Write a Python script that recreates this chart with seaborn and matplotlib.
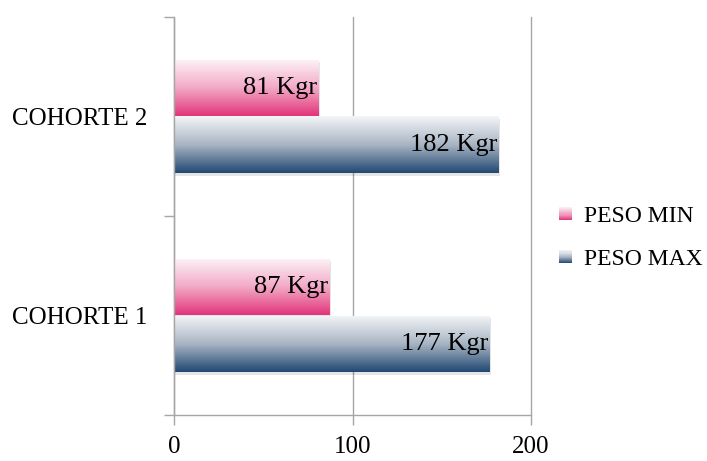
import numpy as np
import pandas as pd
import matplotlib
matplotlib.use("Agg")
import matplotlib.pyplot as plt
import seaborn as sns
from matplotlib.colors import LinearSegmentedColormap
from matplotlib.patches import Rectangle
from matplotlib.legend_handler import HandlerBase

# Data
cohorts = ["COHORTE 2", "COHORTE 1"]
series = ["PESO MIN", "PESO MAX"]
peso_min = [81, 87]
peso_max = [182, 177]
x_ticks = [0, 100, 200]

df = pd.DataFrame({
    "cohorte": cohorts * 2,
    "serie": [series[0]] * len(cohorts) + [series[1]] * len(cohorts),
    "peso": peso_min + peso_max,
})

# Vertical gradients (top -> bottom) for each series
grad_colors = {
    "PESO MIN": ["#fdf3f7", "#f2aac6", "#e2347a"],
    "PESO MAX": ["#f4f6f8", "#a9b5c4", "#214872"],
}
cmaps = {k: LinearSegmentedColormap.from_list(k, v) for k, v in grad_colors.items()}

sns.set_style("white")
plt.rcParams["font.family"] = ["Liberation Serif", "DejaVu Serif"]
plt.rcParams["text.color"] = "#000000"
plt.rcParams["xtick.color"] = "#000000"
plt.rcParams["ytick.color"] = "#000000"

fig = plt.figure(figsize=(7.07, 4.61), dpi=100)
ax = fig.add_axes([174 / 707, 1 - 415 / 461, (531 - 174) / 707, (415 - 17) / 461])

sns.barplot(data=df, y="cohorte", x="peso", hue="serie", order=cohorts,
            hue_order=series, orient="h", width=0.57, ax=ax, legend=False,
            palette=[grad_colors[s][-1] for s in series], saturation=1)

grad = np.linspace(0, 1, 256).reshape(-1, 1)
for container, name in zip(ax.containers, series):
    for bar in container:
        x0, y0 = bar.get_x(), bar.get_y()
        w, h = bar.get_width(), bar.get_height()
        # soft drop shadow
        ax.add_patch(Rectangle((x0 + 0.8, y0 + 0.012), w, h, facecolor="#000000",
                               alpha=0.10, edgecolor="none", zorder=1.5))
        im = ax.imshow(grad, cmap=cmaps[name], aspect="auto", origin="upper",
                       extent=(x0, x0 + w, y0 + h, y0), zorder=2,
                       interpolation="bilinear")
        im.set_clip_path(bar)
        bar.set_facecolor("none")
        bar.set_edgecolor("none")
        bar.set_zorder(2.1)
    labels = ax.bar_label(container, fmt="{:.0f} Kgr", padding=-1, fontsize=19,
                          color="#000000")
    for t in labels:
        t.set_ha("right")
        t.set_zorder(4)

ax.set_xlim(0, 200)
ax.set_ylim(1.5, -0.5)
ax.set_xticks(x_ticks)
ax.set_xticklabels([str(v) for v in x_ticks], fontsize=18)
ax.set_yticks([0, 1])
ax.set_yticklabels(cohorts, fontsize=18)
ax.set_yticks([-0.5, 0.5, 1.5], minor=True)
ax.set_xlabel("")
ax.set_ylabel("")

ax.grid(axis="x", color="#a6a6a6", linewidth=1.0)
ax.grid(axis="y", visible=False)
ax.set_axisbelow(True)
for gl in ax.get_xgridlines():
    gl.set_clip_on(False)

for s in ["top", "right"]:
    ax.spines[s].set_visible(False)
for s in ["left", "bottom"]:
    ax.spines[s].set_color("#a6a6a6")
    ax.spines[s].set_linewidth(1.0)

ax.tick_params(axis="y", which="major", length=0, pad=19)
ax.tick_params(axis="y", which="minor", length=7, width=1.0, color="#a6a6a6",
               direction="out", left=True)
ax.tick_params(axis="x", which="major", length=7, width=1.0, color="#a6a6a6",
               labelcolor="#000000", direction="out", pad=8, bottom=True)
ax.tick_params(axis="y", labelcolor="#000000")


class GradientHandler(HandlerBase):
    def __init__(self, cmap, n=12):
        super().__init__()
        self.cmap = cmap
        self.n = n

    def create_artists(self, legend, orig_handle, xdescent, ydescent, width,
                       height, fontsize, trans):
        arts = []
        size = min(width, height)
        x = -xdescent + (width - size) / 2
        y = -ydescent + (height - size) / 2
        step = size / self.n
        for i in range(self.n):
            c = self.cmap(1 - (i + 0.5) / self.n)
            arts.append(Rectangle((x, y + i * step), size, step + 0.3,
                                  facecolor=c, edgecolor="none", transform=trans))
        return arts


handles = [Rectangle((0, 0), 1, 1) for _ in series]
fig.legend(handles, series, loc="center left",
           bbox_to_anchor=(559 / 707, 1 - 238 / 461), frameon=False,
           fontsize=17, handlelength=0.55, handleheight=0.55, handletextpad=0.5,
           labelspacing=0.95, borderpad=0, borderaxespad=0,
           labelcolor="#000000",
           handler_map={h: GradientHandler(cmaps[s]) for h, s in zip(handles, series)})

fig.savefig("out.png", dpi=100)
